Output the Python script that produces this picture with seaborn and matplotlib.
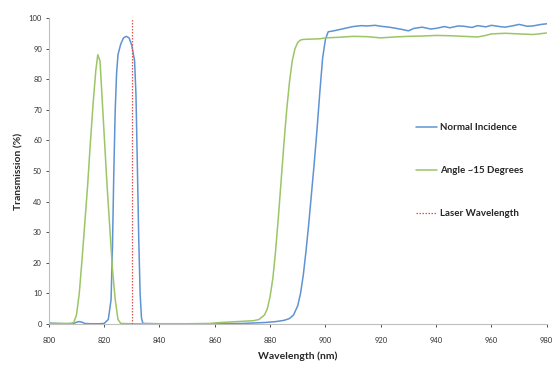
import matplotlib
matplotlib.use("Agg")
import matplotlib.pyplot as plt
import pandas as pd
import seaborn as sns

# Normal incidence transmission (blue)
normal_nm = [800, 803, 806, 809, 810, 811, 812, 813, 815, 818, 820, 821.5, 822.5, 823, 823.5,
             824, 824.5, 825, 826, 827, 828, 829, 830, 831, 831.5, 832, 832.5, 833, 833.5, 834,
             840, 850, 860, 870, 878, 882, 885, 887, 888.5, 890, 891, 892, 893, 894, 895,
             896, 897, 898, 899, 900, 901, 903, 905, 908, 910, 913, 915, 918, 920, 923,
             925, 928, 930, 932, 935, 938, 940, 943, 945, 948, 950, 953, 955, 958, 960,
             963, 965, 968, 970, 973, 975, 978, 980]
normal_t = [0.3, 0.2, 0.1, 0.2, 0.6, 0.8, 0.6, 0.2, 0.1, 0.1, 0.2, 1.5, 8, 25, 50,
            70, 82, 88, 91.5, 93.5, 94, 93.5, 91, 86, 75, 52, 28, 10, 2, 0.2,
            0.1, 0.1, 0.1, 0.2, 0.5, 0.8, 1.2, 1.8, 3, 6, 10, 16, 24, 33, 43,
            53, 64, 76, 87, 93, 95.5, 95.8, 96.2, 96.8, 97.2, 97.5, 97.4, 97.6, 97.3, 97.0,
            96.7, 96.2, 95.8, 96.6, 97.0, 96.4, 96.6, 97.2, 96.8, 97.4, 97.3, 96.9, 97.5, 97.1, 97.6,
            97.2, 97.0, 97.5, 97.9, 97.3, 97.4, 97.9, 98.1]

# Angle ~15 degrees transmission (green)
angle_nm = [800, 805, 808, 809, 810, 811, 812, 813, 814, 815, 816, 817, 817.7, 818.5,
            819, 820, 821, 822, 823, 824, 825, 826, 830, 840, 850, 858, 862, 866, 870,
            874, 876, 878, 879, 880, 881, 882, 883, 884, 885, 886, 887, 888, 889, 890,
            891, 892, 895, 898, 900, 905, 910, 915, 920, 925, 930, 935, 940, 945, 950,
            955, 958, 960, 965, 970, 975, 980]
angle_t = [0.2, 0.2, 0.2, 0.5, 3, 10, 21, 33, 45, 59, 72, 83, 88, 86,
           78, 62, 46, 32, 18, 8, 1.5, 0.2, 0.1, 0.1, 0.1, 0.2, 0.5, 0.7, 0.9,
           1.1, 1.5, 3, 5, 9, 15, 24, 35, 47, 59, 70, 79, 86, 90, 92,
           92.8, 93.0, 93.1, 93.2, 93.5, 93.7, 94.0, 93.9, 93.5, 93.8, 94.0, 94.1, 94.3, 94.2, 94.0,
           93.8, 94.3, 94.8, 95.0, 94.8, 94.6, 95.1]

laser_nm = 830

series_names = ["Normal Incidence", "Angle ~15 Degrees"]
laser_name = "Laser Wavelength"

x_ticks = list(range(800, 981, 20))
y_ticks = list(range(0, 101, 10))


def main() -> None:
    sns.set_theme(style="white")
    plt.rcParams["font.family"] = ["Lato", "DejaVu Sans"]

    df = pd.concat([
        pd.DataFrame({"nm": normal_nm, "t": normal_t, "series": series_names[0]}),
        pd.DataFrame({"nm": angle_nm, "t": angle_t, "series": series_names[1]}),
    ])

    fig = plt.figure(figsize=(5.55, 3.67), dpi=100)
    ax = fig.add_axes([0.088, 0.117, 0.897, 0.834])

    sns.lineplot(data=df, x="nm", y="t", hue="series", hue_order=series_names,
                 palette=["#5F93D3", "#9CC566"], linewidth=1.1, ax=ax, sort=False)
    ax.axvline(laser_nm, color="#D9534F", linestyle=(0, (1.2, 1.2)), linewidth=0.9,
               label=laser_name)

    ax.set_xlim(800, 980)
    ax.set_ylim(0, 100)
    ax.set_xticks(x_ticks)
    ax.set_yticks(y_ticks)
    ax.tick_params(axis="both", labelsize=5.5, colors="#333333", length=2, width=0.6,
                   direction="out", bottom=True, left=True, pad=3)
    ax.tick_params(axis="x", pad=7)
    for side in ["top", "right"]:
        ax.spines[side].set_visible(False)
    for side in ["left", "bottom"]:
        ax.spines[side].set_color("#BFBFBF")
        ax.spines[side].set_linewidth(0.8)

    ax.set_xlabel("Wavelength (nm)", fontsize=7.5, fontweight="bold", color="#262626", labelpad=6)
    ax.set_ylabel("Transmission (%)", fontsize=7.5, fontweight="bold", color="#262626", labelpad=4)

    leg = ax.legend(loc="upper left", bbox_to_anchor=(0.72, 0.685), frameon=False,
                    fontsize=7, labelspacing=3.5, handlelength=2.2, handletextpad=0.3)
    for text in leg.get_texts():
        text.set_fontweight("bold")
        text.set_color("#262626")

    fig.savefig("out.png", dpi=100)
    plt.close(fig)


if __name__ == "__main__":
    main()
